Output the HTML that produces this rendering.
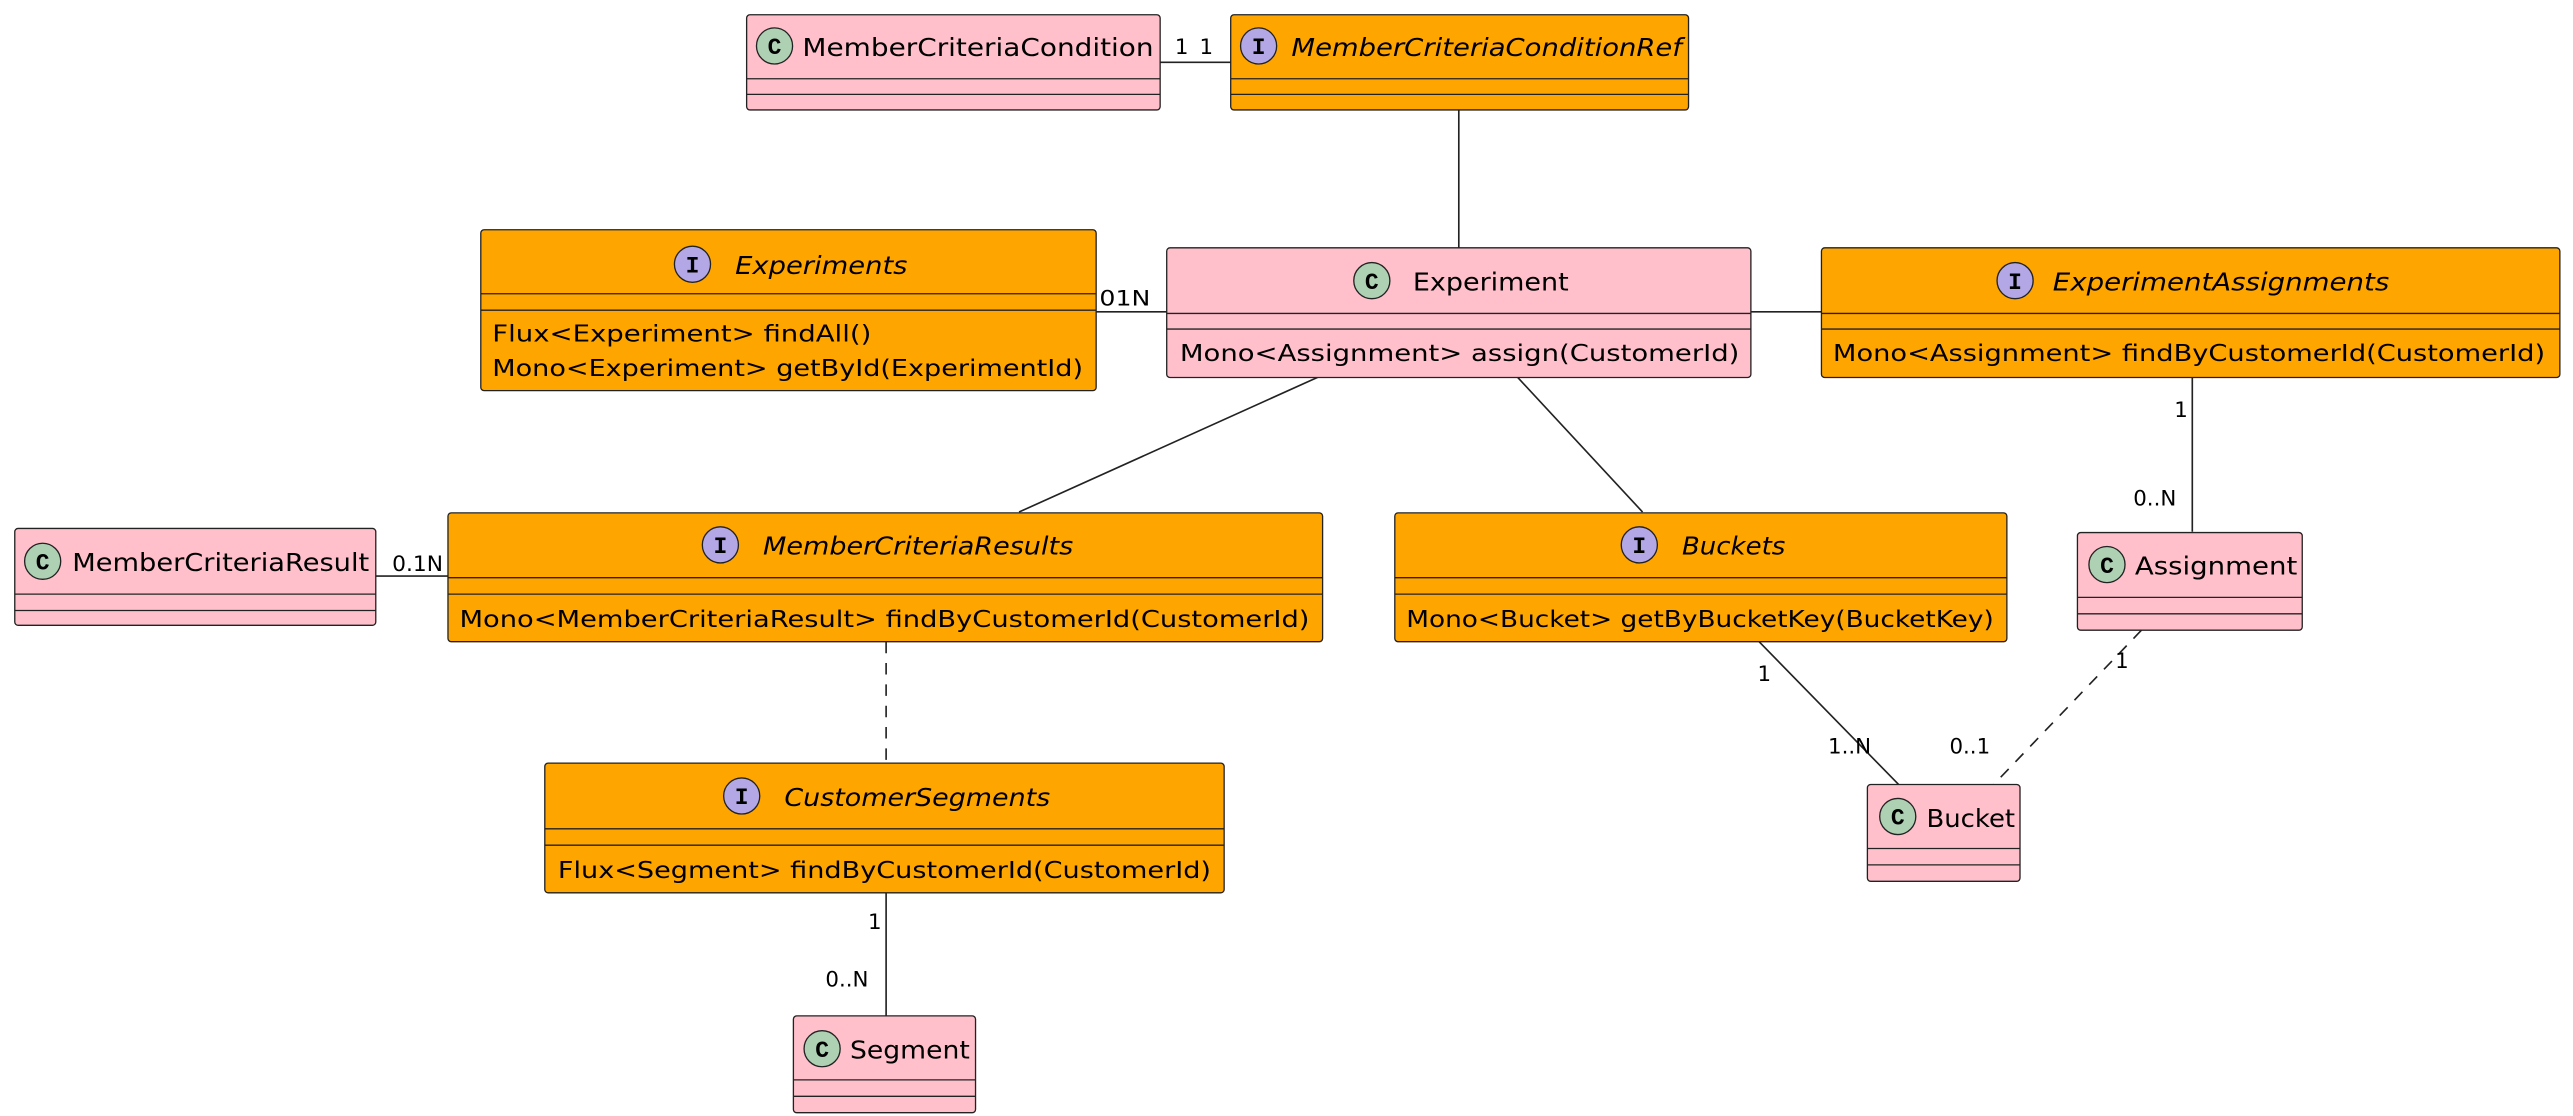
<!DOCTYPE html>
<html><head><meta charset="utf-8"><style>
html,body{margin:0;padding:0;background:#fff;}
svg{display:block;}
text{font-family:"DejaVu Sans","Liberation Sans",sans-serif;fill:#000;}
.n{font-size:15px;}
.i{font-size:15px;font-style:italic;}
.m{font-size:14px;}
.l{font-size:13px;}
.cb{fill:#FFC0CB;stroke:#222;stroke-width:0.8;}
.ib{fill:#FFA500;stroke:#222;stroke-width:0.8;}
.sep{stroke:#222;stroke-width:0.8;}
.ln{stroke:#222;stroke-width:1;fill:none;}
.dl{stroke:#222;stroke-width:1;fill:none;stroke-dasharray:7,6;}
.cc{fill:#ADD1B2;stroke:#222;stroke-width:0.8;}
.ic{fill:#B4A7E5;stroke:#222;stroke-width:0.8;}
.g{font-size:14px;font-weight:bold;font-family:"Liberation Mono",monospace;}
</style></head><body>
<svg width="2573" height="1116" viewBox="0 0 1568 680" preserveAspectRatio="none" xmlns="http://www.w3.org/2000/svg">
<!-- connectors -->
<line class="ln" x1="707" y1="38" x2="750" y2="38"/>
<line class="ln" x1="889" y1="67" x2="889" y2="151"/>
<line class="ln" x1="668" y1="190" x2="711" y2="190"/>
<line class="ln" x1="1067" y1="190" x2="1110" y2="190"/>
<line class="ln" x1="805" y1="229" x2="621" y2="312"/>
<line class="ln" x1="924" y1="229" x2="1001" y2="312"/>
<line class="ln" x1="1336" y1="229" x2="1336" y2="324"/>
<line class="ln" x1="229" y1="351" x2="273" y2="351"/>
<line class="dl" x1="540" y1="391" x2="540" y2="465"/>
<line class="ln" x1="1072" y1="391" x2="1157" y2="478"/>
<line class="dl" x1="1305" y1="384" x2="1215" y2="478"/>
<line class="ln" x1="540" y1="544" x2="540" y2="619"/>
<!-- labels -->
<text class="l" x="716" y="33">1</text><text class="l" x="731" y="33">1</text>
<text class="l" x="670" y="186" textLength="31" lengthAdjust="spacingAndGlyphs">01N</text>
<text class="l" x="1325" y="254">1</text>
<text class="l" x="1300" y="308">0..N</text>
<text class="l" x="239" y="348" textLength="31" lengthAdjust="spacingAndGlyphs">0.1N</text>
<text class="l" x="1071" y="415">1</text>
<text class="l" x="1114" y="459">1..N</text>
<text class="l" x="1289" y="407">1</text>
<text class="l" x="1188" y="459">0..1</text>
<text class="l" x="529" y="566">1</text>
<text class="l" x="503" y="601">0..N</text>

<!-- MemberCriteriaCondition -->
<rect class="cb" x="455" y="9" width="252" height="58" rx="2"/>
<line class="sep" x1="455" y1="48" x2="707" y2="48"/><line class="sep" x1="455" y1="57.5" x2="707" y2="57.5"/>
<circle class="cc" cx="472" cy="28" r="11"/><text class="g" x="472" y="33" text-anchor="middle">C</text>
<text class="n" x="489" y="34" textLength="214" lengthAdjust="spacingAndGlyphs">MemberCriteriaCondition</text>

<!-- MemberCriteriaConditionRef -->
<rect class="ib" x="750" y="9" width="279" height="58" rx="2"/>
<line class="sep" x1="750" y1="48" x2="1029" y2="48"/><line class="sep" x1="750" y1="57.5" x2="1029" y2="57.5"/>
<circle class="ic" cx="767" cy="28" r="11"/><text class="g" x="767" y="33" text-anchor="middle">I</text>
<text class="i" x="787" y="34" textLength="238" lengthAdjust="spacingAndGlyphs">MemberCriteriaConditionRef</text>

<!-- Experiments -->
<rect class="ib" x="293" y="140" width="375" height="98" rx="2"/>
<line class="sep" x1="293" y1="179" x2="668" y2="179"/><line class="sep" x1="293" y1="189" x2="668" y2="189"/>
<circle class="ic" cx="422" cy="161" r="11"/><text class="g" x="422" y="166" text-anchor="middle">I</text>
<text class="i" x="448" y="167" textLength="105" lengthAdjust="spacingAndGlyphs">Experiments</text>
<text class="m" x="300" y="208" textLength="231" lengthAdjust="spacingAndGlyphs">Flux&lt;Experiment&gt; findAll()</text>
<text class="m" x="300" y="229" textLength="360" lengthAdjust="spacingAndGlyphs">Mono&lt;Experiment&gt; getById(ExperimentId)</text>

<!-- Experiment -->
<rect class="cb" x="711" y="151" width="356" height="79" rx="2"/>
<line class="sep" x1="711" y1="191" x2="1067" y2="191"/><line class="sep" x1="711" y1="200.5" x2="1067" y2="200.5"/>
<circle class="cc" cx="836" cy="171" r="11"/><text class="g" x="836" y="176" text-anchor="middle">C</text>
<text class="n" x="861" y="177" textLength="95" lengthAdjust="spacingAndGlyphs">Experiment</text>
<text class="m" x="719" y="220" textLength="341" lengthAdjust="spacingAndGlyphs">Mono&lt;Assignment&gt; assign(CustomerId)</text>

<!-- ExperimentAssignments -->
<rect class="ib" x="1110" y="151" width="450" height="79" rx="2"/>
<line class="sep" x1="1110" y1="191" x2="1560" y2="191"/><line class="sep" x1="1110" y1="200.5" x2="1560" y2="200.5"/>
<circle class="ic" cx="1228" cy="171" r="11"/><text class="g" x="1228" y="176" text-anchor="middle">I</text>
<text class="i" x="1251" y="177" textLength="205" lengthAdjust="spacingAndGlyphs">ExperimentAssignments</text>
<text class="m" x="1117" y="220" textLength="434" lengthAdjust="spacingAndGlyphs">Mono&lt;Assignment&gt; findByCustomerId(CustomerId)</text>

<!-- MemberCriteriaResult -->
<rect class="cb" x="9" y="322" width="220" height="59" rx="2"/>
<line class="sep" x1="9" y1="362" x2="229" y2="362"/><line class="sep" x1="9" y1="372" x2="229" y2="372"/>
<circle class="cc" cx="26" cy="342" r="11"/><text class="g" x="26" y="347" text-anchor="middle">C</text>
<text class="n" x="44" y="348" textLength="181" lengthAdjust="spacingAndGlyphs">MemberCriteriaResult</text>

<!-- MemberCriteriaResults -->
<rect class="ib" x="273" y="312.5" width="533" height="78.5" rx="2"/>
<line class="sep" x1="273" y1="352" x2="806" y2="352"/><line class="sep" x1="273" y1="362" x2="806" y2="362"/>
<circle class="ic" cx="439" cy="332" r="11"/><text class="g" x="439" y="337" text-anchor="middle">I</text>
<text class="i" x="465" y="338" textLength="189" lengthAdjust="spacingAndGlyphs">MemberCriteriaResults</text>
<text class="m" x="280" y="382" textLength="518" lengthAdjust="spacingAndGlyphs">Mono&lt;MemberCriteriaResult&gt; findByCustomerId(CustomerId)</text>

<!-- Buckets -->
<rect class="ib" x="850" y="312.5" width="373" height="78.5" rx="2"/>
<line class="sep" x1="850" y1="352" x2="1223" y2="352"/><line class="sep" x1="850" y1="362" x2="1223" y2="362"/>
<circle class="ic" cx="999" cy="332" r="11"/><text class="g" x="999" y="337" text-anchor="middle">I</text>
<text class="i" x="1025" y="338" textLength="63" lengthAdjust="spacingAndGlyphs">Buckets</text>
<text class="m" x="857" y="382" textLength="358" lengthAdjust="spacingAndGlyphs">Mono&lt;Bucket&gt; getByBucketKey(BucketKey)</text>

<!-- Assignment -->
<rect class="cb" x="1266" y="324.5" width="137" height="59.5" rx="2"/>
<line class="sep" x1="1266" y1="364" x2="1403" y2="364"/><line class="sep" x1="1266" y1="374" x2="1403" y2="374"/>
<circle class="cc" cx="1284" cy="344" r="11"/><text class="g" x="1284" y="349" text-anchor="middle">C</text>
<text class="n" x="1301" y="350" textLength="99" lengthAdjust="spacingAndGlyphs">Assignment</text>

<!-- Bucket -->
<rect class="cb" x="1138" y="478" width="93" height="59" rx="2"/>
<line class="sep" x1="1138" y1="517" x2="1231" y2="517"/><line class="sep" x1="1138" y1="527" x2="1231" y2="527"/>
<circle class="cc" cx="1156.5" cy="497.5" r="11"/><text class="g" x="1156.5" y="502.5" text-anchor="middle">C</text>
<text class="n" x="1174" y="504" textLength="54" lengthAdjust="spacingAndGlyphs">Bucket</text>

<!-- CustomerSegments -->
<rect class="ib" x="332" y="465" width="414" height="79" rx="2"/>
<line class="sep" x1="332" y1="505" x2="746" y2="505"/><line class="sep" x1="332" y1="515" x2="746" y2="515"/>
<circle class="ic" cx="452" cy="485" r="11"/><text class="g" x="452" y="490" text-anchor="middle">I</text>
<text class="i" x="478" y="491" textLength="162" lengthAdjust="spacingAndGlyphs">CustomerSegments</text>
<text class="m" x="340" y="535" textLength="398" lengthAdjust="spacingAndGlyphs">Flux&lt;Segment&gt; findByCustomerId(CustomerId)</text>

<!-- Segment -->
<rect class="cb" x="483.5" y="619" width="111" height="59" rx="2"/>
<line class="sep" x1="483.5" y1="658" x2="594.5" y2="658"/><line class="sep" x1="483.5" y1="668" x2="594.5" y2="668"/>
<circle class="cc" cx="501" cy="639" r="11"/><text class="g" x="501" y="644" text-anchor="middle">C</text>
<text class="n" x="518" y="645" textLength="73" lengthAdjust="spacingAndGlyphs">Segment</text>
</svg>
</body></html>
